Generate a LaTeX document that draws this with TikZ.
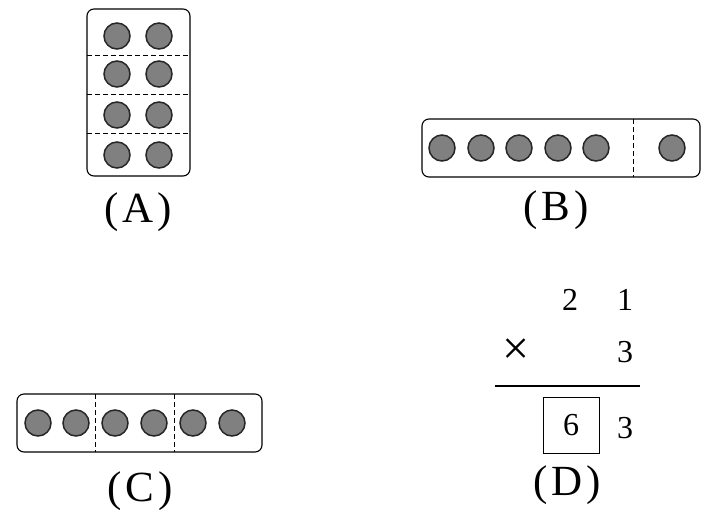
\documentclass[tikz,border=0pt]{standalone}
\usepackage{fontspec}
\setmainfont{Liberation Serif}
\begin{document}
\begin{tikzpicture}[x=1pt, y=-1pt,
    dot/.style={draw=black!85, line width=1.5pt, fill=black!50},
    card/.style={draw, line width=1.1pt, rounded corners=7pt},
    sep/.style={line width=1pt, dash pattern=on 5pt off 3pt},
    lab/.style={font=\fontsize{43}{45}\selectfont, inner sep=0pt},
    num/.style={font=\fontsize{32}{34}\selectfont, inner sep=0pt}]
    \useasboundingbox (0,0) rectangle (721,515);
    % (A): four rows of two
    \draw[card] (87,9) rectangle (190,176);
    \foreach \y in {55,94,133} {
      \draw[sep] (87,\y) -- (190,\y);
    }
    \foreach \y in {36,74,115,155} {
      \draw[dot] (117,\y) circle (13);
      \draw[dot] (159,\y) circle (13);
    }
    \node[lab] (labA) at (138,212) {(\kern4pt A\kern4pt)};
    % (B): five and one
    \draw[card] (422,119) rectangle (700,177);
    \draw[sep] (633,119) -- (633,177);
    \foreach \x in {442,481,519,558,596,672} {
      \draw[dot] (\x,148) circle (13);
    }
    \node[lab] (labB) at (556,210) {(\kern4pt B\kern4pt)};
    % (C): three pairs
    \draw[card] (17,394) rectangle (262,452);
    \foreach \x in {95,174} {
      \draw[sep] (\x,394) -- (\x,452);
    }
    \foreach \x in {38,76,115,154,193,232} {
      \draw[dot] (\x,423) circle (13);
    }
    \node[lab] (labC) at (140,491) {(\kern4pt C\kern4pt)};
    % (D): 21 x 3
    \node[num] (dTwo) at (570,300) {2};
    \node[num] (dOne) at (625,300) {1};
    \node[num, font=\fontsize{48}{50}\selectfont] (dTimes) at (516,352) {×};
    \node[num] (dThree) at (625,352) {3};
    \draw[line width=1.1pt] (495,386) -- (640,386);
    \node[num, draw, line width=1pt, minimum width=56pt, minimum height=56pt] (dSix) at (571,425) {6};
    \node[num] (dLast) at (625,428) {3};
    \node[lab] (labD) at (567,485) {(\kern4pt D\kern4pt)};
\end{tikzpicture}
\end{document}
